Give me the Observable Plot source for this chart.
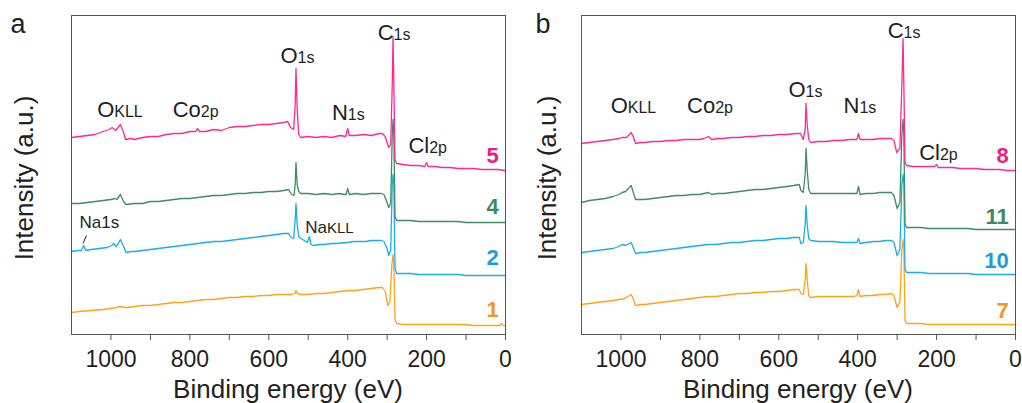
<!DOCTYPE html>
<html><head><meta charset="utf-8">
<script src="https://cdn.jsdelivr.net/npm/d3@7"></script>
<script src="https://cdn.jsdelivr.net/npm/@observablehq/plot@0.6"></script>
<style>
html,body{margin:0;padding:0;background:#fff;overflow:hidden}
#wrap{display:flex;width:1022px;height:403px}
</style></head><body><div id="wrap"></div>
<script>
// ---------- DATA (binding energy eV, intensity a.u. incl. stacking offset) ----------
// Panel a
const a5 = [[1100,197],[1080,198],[1060,199],[1040,200],[1020,203],[1005,205],[997,207],[988,204],[976,210],[968,202],[963,195],[950,196],[940,195],[920,197],[900,198],[880,198],[860,200],[840,201],[820,201],[800,203],[785,203],[781,206],[775,203],[760,203],[740,205],[720,204],[700,207],[680,208],[660,208],[640,209],[620,210],[600,210],[580,211],[562,212],[552,213],[545,207],[537,205],[533,230],[531,266],[528,225],[524,200],[519,197],[500,198],[480,197],[460,198],[440,197],[420,199],[405,198],[400,206],[396,199],[380,199],[360,200],[340,199],[320,201],[312,201],[305,198],[296,187],[291,190],[287,250],[285,298],[283,250],[280,175],[276,171],[260,170],[240,169],[220,169],[205,168],[200,172],[196,168],[180,168],[160,167],[140,167],[120,166],[100,166],[80,166],[60,165],[40,165],[20,165],[0,164]];
const a4 = [[1100,131],[1080,131],[1060,132],[1040,133],[1020,134],[1000,135],[990,136],[985,135],[976,140],[968,133],[962,130],[940,131],[920,131],[900,133],[880,133],[860,134],[840,135],[820,136],[800,136],[780,137],[760,138],[740,139],[720,139],[700,140],[680,141],[660,141],[640,142],[620,142],[600,143],[580,143],[562,144],[550,145],[542,140],[536,139],[533,150],[531,172],[528,150],[524,143],[519,141],[500,141],[480,140],[460,141],[440,140],[420,141],[410,140],[404,140],[400,146],[396,140],[380,141],[360,140],[340,141],[330,141],[315,141],[308,140],[300,132],[296,127],[291,131],[287,200],[285,215],[283,200],[280,118],[276,114],[260,114],[240,114],[220,113],[200,113],[180,113],[160,113],[140,113],[120,113],[100,112],[80,112],[60,112],[40,112],[20,112],[0,112]];
const a2 = [[1100,83],[1085,84],[1075,84],[1069,89],[1064,84],[1050,85],[1030,86],[1010,87],[998,89],[993,91],[986,88],[976,95],[968,88],[962,82],[950,83],[940,83],[920,84],[900,85],[880,86],[860,87],[840,88],[820,89],[800,90],[780,91],[760,92],[740,93],[720,93],[700,94],[680,95],[660,96],[640,97],[620,98],[600,99],[580,100],[562,101],[550,101],[544,97],[537,96],[533,115],[531,131],[528,110],[524,98],[519,96],[510,94],[502,92],[497,98],[493,90],[488,89],[470,90],[460,90],[440,91],[430,91],[400,92],[385,93],[370,93],[355,93],[340,94],[315,94],[308,93],[300,86],[296,79],[291,84],[287,150],[285,160],[283,150],[280,66],[276,61],[260,61],[240,61],[220,60],[200,60],[180,60],[160,60],[140,60],[120,60],[100,59],[80,59],[60,59],[40,59],[20,59],[0,59]];
const a1 = [[1100,22],[1080,23],[1050,24],[1020,25],[1000,26],[985,27],[976,28],[965,27],[960,27],[940,28],[920,29],[900,29],[880,30],[860,31],[840,32],[820,32],[800,33],[780,34],[760,35],[740,35],[720,36],[700,37],[680,37],[660,38],[640,38],[620,39],[600,39],[580,40],[560,40],[540,40],[533,41],[531,44],[528,41],[519,40],[500,40],[480,41],[460,41],[440,42],[420,43],[400,44],[380,44],[360,45],[340,46],[320,47],[312,47],[305,43],[298,29],[293,33],[288,70],[285,80],[283,70],[280,15],[276,11],[260,10],[240,10],[220,10],[200,10],[180,10],[160,10],[140,10],[120,10],[100,10],[80,9],[60,9],[40,9],[15,9],[10,11],[5,9],[0,9]];
// Panel b
const b8 = [[1100,191],[1080,192],[1060,193],[1040,194],[1020,195],[1005,196],[997,197],[986,197],[974,202],[968,197],[963,191],[950,192],[940,192],[920,193],[900,193],[880,194],[860,194],[840,195],[820,195],[800,195],[790,196],[778,198],[770,195],[755,196],[740,196],[720,197],[700,197],[680,198],[660,198],[640,199],[620,199],[600,200],[580,200],[555,201],[545,201],[538,195],[533,205],[531,231],[528,210],[524,195],[519,192],[500,193],[480,193],[460,194],[440,194],[420,195],[410,195],[402,195],[398,201],[394,195],[380,195],[360,195],[345,196],[330,196],[315,196],[308,194],[301,182],[293,186],[288,250],[285,296],[283,250],[280,172],[276,169],[260,168],[240,168],[220,168],[205,168],[200,170],[196,167],[180,167],[160,167],[140,166],[120,166],[100,166],[80,165],[60,165],[40,165],[20,164],[0,164]];
const b11 = [[1100,132],[1080,134],[1060,135],[1040,136],[1020,138],[1005,140],[997,142],[988,143],[974,149],[968,141],[963,135],[950,135],[940,135],[920,136],[900,137],[880,138],[860,139],[840,139],[820,140],[800,140],[790,141],[778,142],[770,140],[755,141],[740,141],[720,142],[700,143],[680,144],[660,145],[640,145],[620,146],[600,147],[580,148],[562,149],[548,150],[544,144],[538,142],[533,160],[531,186],[528,165],[524,145],[519,141],[500,141],[480,141],[460,141],[440,141],[420,141],[410,141],[402,141],[398,148],[394,140],[380,141],[360,141],[345,142],[330,142],[315,142],[308,139],[300,126],[293,132],[288,200],[285,215],[283,200],[280,110],[276,107],[260,107],[240,107],[220,106],[200,106],[180,106],[160,106],[140,106],[120,106],[100,105],[80,105],[60,105],[40,105],[20,105],[0,105]];
const b10 = [[1100,82],[1080,83],[1060,84],[1040,85],[1020,86],[1005,88],[997,90],[988,89],[974,92],[968,86],[963,81],[950,82],[940,82],[920,83],[900,84],[880,85],[860,86],[840,87],[820,88],[800,89],[780,90],[760,90],[740,91],[720,92],[700,92],[680,93],[660,94],[640,94],[620,95],[600,96],[580,96],[562,97],[548,97],[544,91],[538,92],[533,110],[531,129],[528,110],[524,96],[519,94],[500,93],[480,93],[460,93],[440,92],[420,92],[410,92],[402,92],[398,96],[394,91],[380,92],[360,93],[345,93],[330,94],[315,94],[308,92],[300,79],[293,85],[288,150],[285,160],[283,150],[280,65],[276,62],[260,62],[240,62],[220,61],[200,61],[180,61],[160,61],[140,61],[120,61],[100,60],[80,60],[60,60],[40,60],[20,60],[0,60]];
const b7 = [[1100,30],[1080,31],[1060,32],[1040,33],[1020,34],[1005,35],[990,36],[974,40],[968,35],[963,29],[950,30],[940,30],[920,31],[900,32],[880,33],[860,34],[840,35],[820,36],[800,37],[780,38],[760,38],[740,39],[720,40],[700,41],[680,41],[660,42],[640,42],[620,43],[600,43],[580,44],[562,45],[548,45],[544,41],[538,40],[533,55],[531,71],[528,55],[524,39],[519,37],[500,38],[480,38],[460,38],[440,38],[420,38],[410,38],[402,39],[398,45],[394,38],[380,39],[360,39],[345,40],[330,40],[315,41],[308,39],[300,27],[293,33],[288,85],[285,95],[283,85],[280,14],[276,11],[260,11],[240,11],[220,10],[200,10],[180,10],[160,10],[140,10],[120,10],[100,10],[80,10],[60,10],[40,10],[20,10],[0,10]];

// series names, colors
const seriesA = [["1", a1], ["2", a2], ["4", a4], ["5", a5]];
const seriesB = [["7", b7], ["10", b10], ["11", b11], ["8", b8]];
const lineColors = ["#ffa31a", "#1aaee8", "#3f8c66", "#ff2a8c"];
const numColors  = ["#f7931e", "#1b9ddb", "#3c8a5c", "#ec1e79"];
// series number labels: [text, intensity at label baseline]
const numLabelA = [["1", 18], ["2", 70], ["4", 121], ["5", 172]];
const numLabelB = [["7", 17], ["10", 67], ["11", 111], ["8", 172]];
const numLabelEv = 17;

// peak labels: [main, small, eV (centre), intensity (baseline)]
const peakLabelA = [["O","KLL",976,217],["Co","2p",784,217],["O","1s",526,271],["N","1s",397,214],["C","1s",281,294],["Cl","2p",196,181]];
const peakLabelB = [["O","KLL",967,221],["Co","2p",773,221],["O","1s",531,237],["N","1s",393,221],["C","1s",281,296],["Cl","2p",194,174]];
const naLabelA = [["Na","1s",1028,106],["Na","KLL",445,101]];
const naLeader = [[1071, 91, 1062, 99]];

const majorTicks = [0, 200, 400, 600, 800, 1000];
const minorTicks = [100, 300, 500, 700, 900];
const xDomain = [1100, 0];
const yDomain = [0, 319];
const xTitle = "Binding energy (eV)";
const yTitle = "Intensity (a.u.)";

const FONT = "'Liberation Sans', Arial, Helvetica, sans-serif";
const INK = "#231f20";

function richText(items, bigSize, smallSize) {
  return (index, scales) => {
    const g = d3.create("svg:g").attr("fill", INK).attr("font-family", FONT);
    for (const [main, small, ev, v] of items) {
      const t = g.append("text").attr("x", scales.x(ev)).attr("y", scales.y(v)).attr("text-anchor", "middle");
      t.append("tspan").attr("font-size", bigSize).text(main);
      t.append("tspan").attr("font-size", smallSize).text(small);
    }
    return g.node();
  };
}

function titles(letter, letterX, ylabX) {
  return (index, scales, values, dims) => {
    const g = d3.create("svg:g").attr("fill", INK).attr("font-family", FONT);
    const cx = (dims.marginLeft + dims.width - dims.marginRight) / 2;
    g.append("text").attr("x", cx).attr("y", 398).attr("text-anchor", "middle").attr("font-size", 26).text(xTitle);
    const cy = 178;
    g.append("text").attr("transform", `translate(${ylabX},${cy}) rotate(-90)`).attr("text-anchor", "middle").attr("font-size", 26).text(yTitle);
    g.append("text").attr("x", letterX).attr("y", 33).attr("font-size", 27).text(letter);
    return g.node();
  };
}

function panel({series, numLabels, peaks, letter, letterX, ylabX, marginLeft, marginRight, extra}) {
  const marks = [];
  series.forEach(([name, pts], i) => {
    marks.push(Plot.line(pts.map(([ev, v]) => ({ev, v})), {x: "ev", y: "v", stroke: lineColors[i], strokeWidth: 1.3}));
  });
  marks.push(Plot.frame({stroke: "#555", strokeWidth: 1}));
  marks.push(Plot.axisX({ticks: majorTicks, tickSize: 6, tickPadding: 10, fontSize: 23, tickFormat: d3.format("d"), label: null, stroke: "#555", fill: INK}));
  marks.push(Plot.axisX({ticks: minorTicks, tickSize: 6, tickFormat: () => "", label: null, stroke: "#555"}));
  marks.push(Plot.text(numLabels, {x: () => numLabelEv, y: d => d[1], text: d => d[0], textAnchor: "end", lineAnchor: "bottom", fontSize: 22, fontWeight: "bold", fill: (d, i) => numColors[i]}));
  marks.push(richText(peaks, 22, 16));
  if (extra) marks.push(...extra);
  marks.push(titles(letter, letterX, ylabX));
  return Plot.plot({
    width: 511, height: 403,
    marginLeft, marginRight, marginTop: 15, marginBottom: 69,
    x: {domain: xDomain, label: null},
    y: {domain: yDomain, axis: null},
    color: {type: "identity"},
    style: {fontFamily: FONT, fontSize: "23px", color: INK, background: "white", overflow: "visible"},
    marks
  });
}

const wrap = document.getElementById("wrap");
wrap.append(panel({
  series: seriesA, numLabels: numLabelA, peaks: peakLabelA, letter: "a", letterX: 18, ylabX: 33,
  marginLeft: 71, marginRight: 6,
  extra: [
    richText(naLabelA.slice(0,1), 17, 17),
    richText(naLabelA.slice(1), 17, 15),
    Plot.link(naLeader, {x1: d => d[0], y1: d => d[1], x2: d => d[2], y2: d => d[3], stroke: INK, strokeWidth: 1})
  ]
}));
wrap.append(panel({
  series: seriesB, numLabels: numLabelB, peaks: peakLabelB, letter: "b", letterX: 32, ylabX: 45,
  marginLeft: 70, marginRight: 7
}));
</script></body></html>
